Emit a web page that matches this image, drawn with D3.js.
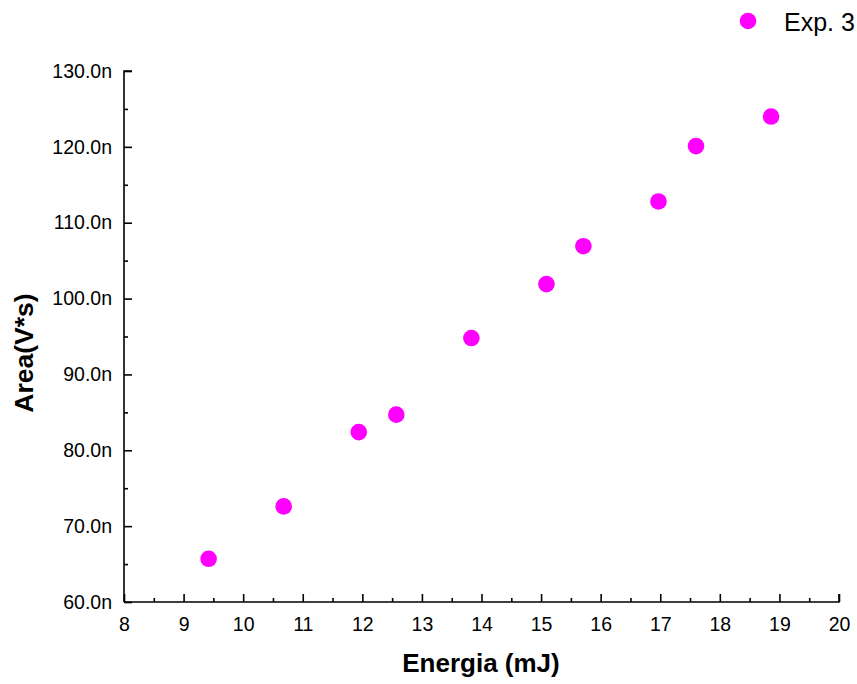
<!DOCTYPE html>
<html><head><meta charset="utf-8">
<script src="https://cdn.jsdelivr.net/npm/d3@7"></script>
<style>body{margin:0;background:#fff;} svg{display:block;font-family:Arial,"Liberation Sans",sans-serif;}</style>
</head><body><svg id="c" width="857" height="684"></svg>
<script>
const energy = [9.42, 10.68, 11.94, 12.57, 13.83, 15.09, 15.71, 16.97, 17.6, 18.86];
const area = [65.7, 72.6, 82.4, 84.7, 94.8, 101.9, 106.9, 112.8, 120.1, 124.0];
const xTicks = [8, 9, 10, 11, 12, 13, 14, 15, 16, 17, 18, 19, 20];
const yTicks = [60, 70, 80, 90, 100, 110, 120, 130];
const seriesName = "Exp. 3";

const svg = d3.select("#c");
const pL = 124, pR = 839, pT = 71, pB = 602;
const x = d3.scaleLinear().domain([8, 20]).range([pL, pR]);
const y = d3.scaleLinear().domain([60, 130]).range([pB, pT]);

const xAxis = d3.axisBottom(x).tickValues(xTicks).tickSize(-8).tickPadding(15).tickFormat(d3.format("d"));
const xMinor = d3.axisBottom(x).tickValues(d3.range(8.5, 20, 1)).tickSize(-4).tickFormat("");
const yAxis = d3.axisLeft(y).tickValues(yTicks).tickSize(-8).tickPadding(12).tickFormat(d => d.toFixed(1) + "n");
const yMinor = d3.axisLeft(y).tickValues(d3.range(65, 130, 10)).tickSize(-4).tickFormat("");

function style(g){
  g.attr("font-family", null).attr("font-size", null);
  g.select(".domain").attr("stroke","#000").attr("stroke-width",1.6);
  g.selectAll(".tick line").attr("stroke","#000").attr("stroke-width",1.6);
  g.selectAll(".tick text").attr("fill","#000").style("font-size","19.5px");
}
svg.append("g").attr("transform",`translate(0,${pB})`).call(xMinor).call(style).select(".domain").remove();
svg.append("g").attr("transform",`translate(${pL},0)`).call(yMinor).call(style).select(".domain").remove();
svg.append("g").attr("transform",`translate(0,${pB})`).call(xAxis).call(style).call(g=>g.select(".domain").attr("d",`M${pL},0H${pR}V-8`));
svg.append("g").attr("transform",`translate(${pL},0)`).call(yAxis).call(style).call(g=>g.select(".domain").attr("d",`M8,${pT}H0V${pB}`));

svg.append("g").selectAll("circle").data(energy).join("circle")
  .attr("cx",(d)=>x(d)).attr("cy",(d,i)=>y(area[i])).attr("r",8.3).attr("fill","#ff00ff");

svg.append("text").attr("x",481).attr("y",672).attr("text-anchor","middle")
  .style("font-size","26px").style("font-weight","bold").text("Energia (mJ)");
svg.append("text").attr("transform","translate(33,353) rotate(-90)").attr("text-anchor","middle")
  .style("font-size","26.5px").style("font-weight","bold").text("Area(V*s)");

svg.append("circle").attr("cx",748).attr("cy",21).attr("r",8.3).attr("fill","#ff00ff");
svg.append("text").attr("x",784).attr("y",31).style("font-size","25px").text(seriesName);
</script></body></html>
